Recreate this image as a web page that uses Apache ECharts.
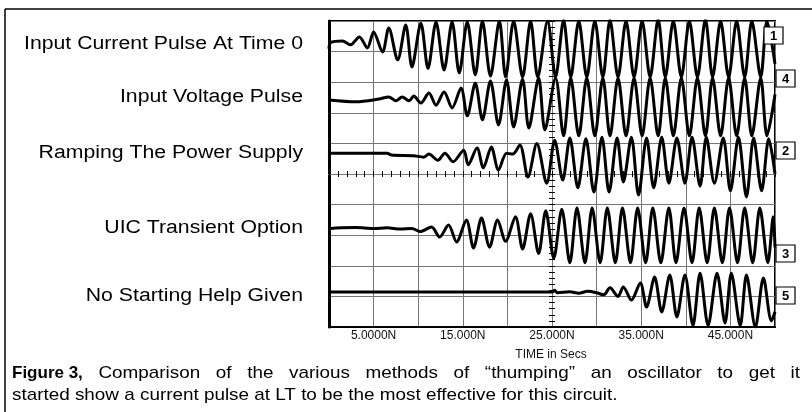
<!DOCTYPE html>
<html>
<head>
<meta charset="utf-8">
<script src="https://cdn.jsdelivr.net/npm/echarts@6/dist/echarts.min.js"></script>
<style>
  html, body { margin: 0; padding: 0; background: #fff; }
  #chart { width: 812px; height: 412px; }
</style>
</head>
<body>
<div id="chart"></div>
<script>
// time in ns, level in screen divisions (0 = bottom of plot, 10 = top)
const traceNames = ['Input Current Pulse At Time 0', 'Input Voltage Pulse', 'Ramping The Power Supply', 'UIC Transient Option', 'No Starting Help Given']
const traceTags = ['1', '4', '2', '3', '5']

const timeTicks = [5, 15, 25, 35, 45]
const timeTickLabels = ['5.0000N', '15.000N', '25.000N', '35.000N', '45.000N']

const captionLead = 'Figure 3,'
const captionLine1 = ['Comparison', 'of', 'the', 'various', 'methods', 'of', '\u201cthumping\u201d', 'an', 'oscillator', 'to', 'get', 'it']
const captionLine2 = 'started show a current pulse at LT to be the most effective for this circuit.'

const currentPulse = [
  [0, 9.1], [0.2, 9.3], [1.5, 9.35], [2.4, 9.22], [3.4, 9.48], [4.3, 9.12], [5.0, 9.64], [6.0, 8.99],
  [6.7, 9.77], [7.7, 8.73], [8.6, 9.87], [9.3, 8.5], [10.3, 9.93], [11.1, 8.45], [12.0, 9.97], [12.9, 8.4],
  [13.8, 9.97], [14.6, 8.3], [15.5, 9.97], [16.4, 8.24], [17.2, 10.0], [18.1, 8.2], [19.1, 10.0], [19.8, 8.17],
  [20.7, 10.0], [21.7, 8.17], [22.6, 10.0], [23.4, 8.17], [24.5, 10.0], [25.4, 8.17], [26.3, 10.03], [27.1, 8.17],
  [28.0, 10.0], [28.9, 8.17], [29.8, 10.0], [30.7, 8.17], [31.5, 10.03], [32.4, 8.17], [33.3, 10.0], [34.2, 8.17],
  [35.1, 10.0], [36.0, 8.17], [36.9, 10.05], [37.7, 8.17], [38.6, 10.0], [39.5, 8.17], [40.4, 10.0], [41.3, 8.17],
  [42.2, 10.05], [43.0, 8.17], [43.9, 10.0], [44.8, 8.17], [45.7, 10.0], [46.6, 8.17], [47.4, 10.0], [48.4, 8.17],
  [49.1, 10.0], [50, 8.6]
]

const voltagePulse = [
  [0, 7.42], [3.0, 7.36], [5.6, 7.45], [6.7, 7.52], [7.5, 7.39], [8.2, 7.52], [9.0, 7.39], [9.5, 7.55],
  [10.3, 7.32], [11.2, 7.65], [12.0, 7.25], [12.9, 7.68], [13.8, 7.16], [14.8, 7.81], [15.5, 6.9], [16.4, 7.97],
  [17.2, 6.77], [18.1, 8.04], [19.0, 6.6], [19.9, 8.07], [20.7, 6.54], [21.7, 8.1], [22.4, 6.5], [23.5, 8.14],
  [24.2, 6.44], [25.4, 8.14], [26.3, 6.25], [27.1, 8.14], [28.0, 6.25], [28.9, 8.14], [29.8, 6.25], [30.7, 8.14],
  [31.5, 6.25], [32.4, 8.14], [33.3, 6.25], [34.2, 8.14], [35.1, 6.25], [36.0, 8.14], [36.9, 6.25], [37.7, 8.14],
  [38.6, 6.25], [39.5, 8.14], [40.4, 6.25], [41.3, 8.14], [42.2, 6.25], [43.0, 8.14], [43.9, 6.25], [44.8, 8.14],
  [45.7, 6.25], [46.6, 8.14], [47.4, 6.25], [48.4, 8.14], [49.1, 6.25], [50, 7.6]
]

const rampSupply = [
  [0, 5.62], [0.2, 5.68], [6.5, 5.68], [7.0, 5.62], [9.5, 5.6], [10.6, 5.55], [11.2, 5.65], [12.2, 5.45],
  [13.0, 5.68], [13.9, 5.4], [15.1, 5.78], [15.6, 5.3], [16.6, 5.85], [17.3, 5.2], [18.2, 5.88], [19.0, 5.13],
  [19.9, 5.68], [20.6, 5.65], [21.4, 5.95], [22.3, 4.9], [23.3, 6.0], [24.4, 4.7], [25.3, 6.1], [26.2, 4.8],
  [27.0, 6.18], [27.9, 4.55], [28.8, 6.15], [29.7, 4.41], [30.6, 6.2], [31.4, 4.41], [32.3, 6.18], [33.0, 4.74],
  [33.9, 6.2], [34.7, 4.31], [35.6, 6.18], [36.4, 4.55], [37.3, 6.2], [38.1, 4.7], [39.0, 6.18], [39.9, 4.7],
  [40.7, 6.2], [41.6, 4.6], [42.3, 6.2], [43.2, 4.7], [44.2, 6.18], [45.0, 4.45], [45.9, 6.2], [46.8, 4.25],
  [47.6, 6.18], [48.5, 4.45], [49.3, 6.15], [50, 5.0]
]

const uicOption = [
  [0, 3.16], [0.2, 3.22], [3.0, 3.25], [5.0, 3.22], [6.5, 3.24], [8.0, 3.2], [9.3, 3.22], [10.2, 3.12],
  [11.5, 3.27], [12.4, 2.94], [13.4, 3.33], [14.3, 2.78], [15.4, 3.5], [16.2, 2.58], [17.1, 3.56], [18.0, 2.61],
  [18.9, 3.5], [19.8, 2.8], [20.9, 3.6], [21.7, 2.55], [22.6, 3.7], [23.5, 2.4], [24.3, 3.8], [25.2, 2.25],
  [26.1, 3.85], [27.0, 2.1], [27.8, 3.89], [28.7, 2.1], [29.5, 3.89], [30.4, 2.1], [31.2, 3.89], [32.1, 2.1],
  [32.9, 3.89], [33.8, 2.1], [34.6, 3.89], [35.5, 2.1], [36.3, 3.89], [37.2, 2.1], [38.1, 3.89], [38.9, 2.1],
  [39.8, 3.89], [40.7, 2.1], [41.5, 3.89], [42.4, 2.1], [43.2, 3.89], [44.1, 2.1], [44.9, 3.89], [45.8, 2.1],
  [46.6, 3.89], [47.5, 2.1], [48.3, 3.89], [49.2, 2.1], [49.8, 3.6], [50, 2.6]
]

const noHelp = [
  [0, 1.14], [25.0, 1.14], [25.3, 1.2], [25.6, 1.12], [27.0, 1.15], [28.0, 1.1], [29.0, 1.17], [30.0, 1.12],
  [30.8, 1.05], [31.5, 1.28], [32.4, 1.0], [33.0, 1.31], [33.9, 0.88], [34.9, 1.44], [35.6, 0.65], [36.5, 1.63],
  [37.3, 0.49], [38.2, 1.7], [39.0, 0.33], [39.9, 1.7], [40.8, 0.05], [41.6, 1.76], [42.5, 0.05], [43.5, 1.76],
  [44.4, 0.13], [45.1, 1.76], [46.1, 0.05], [46.8, 1.7], [47.8, 0.0], [48.7, 1.6], [49.6, 0.2], [50, 0.5]
]

const traces = [currentPulse, voltagePulse, rampSupply, uicOption, noHelp]

const chart = echarts.init(document.getElementById('chart'), null, { renderer: 'canvas' })

const font = 'Liberation Sans, Arial, sans-serif'
const plot = { left: 329, top: 21, width: 446, height: 306 }
// the source figure's text is stretched sideways a little
const labelStretch = 1.18
const captionStretch = 1.11

// left side descriptions, y centres in px
const labelY = [44, 97, 153, 228, 296]
// tag boxes at the right edge
const tagBoxes = [
  { x: 764, y: 27 }, { x: 776, y: 70 }, { x: 776, y: 142 }, { x: 776, y: 245 }, { x: 776, y: 287 }
]

const graphics = [
  { type: 'line', shape: { x1: 5, y1: 9, x2: 812, y2: 9 }, style: { stroke: '#000', lineWidth: 1.5 } },
  { type: 'line', shape: { x1: 5, y1: 9, x2: 5, y2: 412 }, style: { stroke: '#000', lineWidth: 1.5 } },
  {
    type: 'text', x: 551, y: 355,
    style: { text: 'TIME in Secs', font: '12px ' + font, fill: '#111', align: 'center', verticalAlign: 'middle' }
  },
  {
    type: 'text', x: 12, y: 395, scaleX: captionStretch,
    style: { text: captionLine2, font: '17px ' + font, fill: '#000', verticalAlign: 'middle' }
  }
]

// first caption line: bold lead-in, then words justified out to x = 800
const measure = document.createElement('canvas').getContext('2d')
const leadFont = 'bold 17px ' + font
const wordFont = '17px ' + font
measure.font = leadFont
const leadWidth = measure.measureText(captionLead).width
measure.font = wordFont
const wordWidths = captionLine1.map(w => measure.measureText(w).width * captionStretch)
const gap = (800 - 12 - leadWidth - wordWidths.reduce((a, b) => a + b, 0)) / captionLine1.length
graphics.push({
  type: 'text', x: 12, y: 373,
  style: { text: captionLead, font: leadFont, fill: '#000', verticalAlign: 'middle' }
})
let cx = 12 + leadWidth + gap
captionLine1.forEach((w, i) => {
  graphics.push({
    type: 'text', x: cx, y: 373, scaleX: captionStretch,
    style: { text: w, font: wordFont, fill: '#000', verticalAlign: 'middle' }
  })
  cx += wordWidths[i] + gap
})

traceNames.forEach((name, i) => {
  graphics.push({
    type: 'text', x: 303, y: labelY[i], scaleX: labelStretch,
    style: { text: name, font: '18px ' + font, fill: '#000', align: 'right', verticalAlign: 'middle' }
  })
  graphics.push({
    type: 'rect', shape: { x: tagBoxes[i].x, y: tagBoxes[i].y, width: 19, height: 17 },
    style: { fill: '#fff', stroke: '#000', lineWidth: 1.2 }, z: 100
  })
  graphics.push({
    type: 'text', x: tagBoxes[i].x + 9.5, y: tagBoxes[i].y + 9, z: 101,
    style: { text: traceTags[i], font: 'bold 13px ' + font, fill: '#000', align: 'center', verticalAlign: 'middle' }
  })
})

const centreAxis = (pos, gridIndex, min, max, interval) => ({
  type: 'value', gridIndex, position: pos, min, max, interval,
  axisLine: { show: true, onZero: true, lineStyle: { color: '#777', width: 1 } },
  axisTick: { show: true, inside: true, length: 3, lineStyle: { color: '#000' } },
  minorTick: { show: true, splitNumber: 5, length: 3, lineStyle: { color: '#000' } },
  axisLabel: { show: false },
  splitLine: { show: false }
})

const option = {
  animation: false,
  backgroundColor: '#fff',
  grid: [
    { left: plot.left, top: plot.top, width: plot.width, height: plot.height, show: true, borderColor: '#000', borderWidth: 2, containLabel: false },
    { left: plot.left, top: plot.top, width: plot.width, height: plot.height, containLabel: false }
  ],
  xAxis: [
    {
      type: 'value', gridIndex: 0, min: 0, max: 50, interval: 5,
      axisLine: { show: true, onZero: false, lineStyle: { color: '#000', width: 2 } },
      axisTick: { show: false },
      splitLine: { show: true, lineStyle: { color: '#777', width: 1 } },
      axisLabel: {
        margin: 3, fontSize: 12, fontFamily: font, color: '#111', showMinLabel: true, showMaxLabel: true,
        formatter: v => {
          const idx = timeTicks.indexOf(v)
          return idx >= 0 ? timeTickLabels[idx] : ''
        }
      }
    },
    centreAxis('bottom', 1, -25, 25, 5),
    centreAxis('top', 1, -25, 25, 5)
  ],
  yAxis: [
    {
      type: 'value', gridIndex: 0, min: 0, max: 10, interval: 1,
      axisLine: { show: true, onZero: false, lineStyle: { color: '#000', width: 3 } },
      axisTick: { show: false },
      axisLabel: { show: false },
      splitLine: { show: true, lineStyle: { color: '#777', width: 1 } }
    },
    centreAxis('left', 1, -5, 5, 1),
    centreAxis('right', 1, -5, 5, 1)
  ],
  graphic: graphics,
  series: traces.map((data, i) => ({
    name: traceNames[i],
    type: 'line',
    xAxisIndex: 0,
    yAxisIndex: 0,
    data,
    showSymbol: false,
    smooth: 0.3,
    clip: true,
    lineStyle: { color: '#000', width: 3 },
    z: 10
  }))
}

chart.setOption(option)
</script>
</body>
</html>
